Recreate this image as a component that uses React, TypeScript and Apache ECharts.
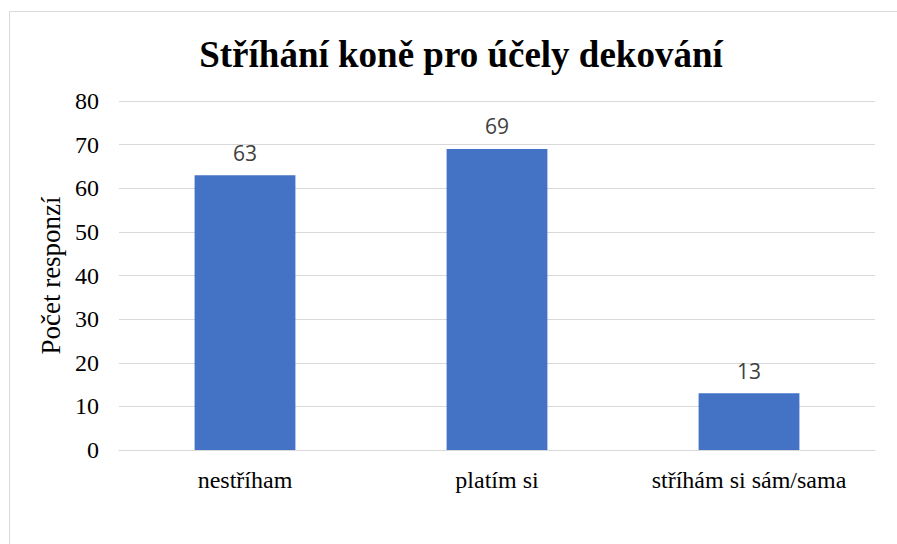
import React, { useEffect, useRef } from "react";
import * as echarts from "echarts";

const titleText = "Stříhání koně pro účely dekování";
const categories = ["nestříham", "platím si", "stříhám si sám/sama"];
const values = [63, 69, 13];
const yAxisName = "Počet responzí";
const yMin = 0;
const yMax = 80;
const yInterval = 10;

export default function App() {
  const ref = useRef<HTMLDivElement>(null);
  useEffect(() => {
    if (!ref.current) return;
    const chart = echarts.init(ref.current, undefined, { renderer: "svg" });
    chart.setOption({
      animation: false,
      backgroundColor: "#ffffff",
      title: {
        text: titleText,
        left: 456,
        textAlign: "center",
        top: 31,
        textStyle: {
          fontFamily: "Liberation Serif",
          fontWeight: "bold",
          fontSize: 37,
          color: "#000000",
        },
      },
      graphic: [
        {
          type: "rect",
          shape: { x: 9.5, y: 11.5, width: 1000, height: 1000 },
          style: { fill: "none", stroke: "#d9d9d9", lineWidth: 1 },
          silent: true,
        },
      ],
      grid: { left: 119, right: 22, top: 101, bottom: 94 },
      xAxis: {
        type: "category",
        data: categories,
        axisLine: { lineStyle: { color: "#d9d9d9", width: 1 } },
        axisTick: { show: false },
        axisLabel: {
          interval: 0,
          fontFamily: "Liberation Serif",
          fontSize: 24,
          color: "#000000",
          margin: 18,
        },
      },
      yAxis: {
        type: "value",
        min: yMin,
        max: yMax,
        interval: yInterval,
        name: yAxisName,
        nameLocation: "middle",
        nameGap: 49,
        nameRotate: 90,
        nameTextStyle: {
          fontFamily: "Liberation Serif",
          fontSize: 27,
          color: "#000000",
        },
        axisLine: { show: false },
        axisTick: { show: false },
        axisLabel: {
          fontFamily: "Liberation Serif",
          fontSize: 24,
          color: "#000000",
          margin: 20,
        },
        splitLine: { lineStyle: { color: "#d9d9d9", width: 1 } },
      },
      series: [
        {
          type: "bar",
          data: values,
          barWidth: "40%",
          itemStyle: { color: "#4472c4" },
          label: {
            show: true,
            position: "top",
            distance: 12,
            fontFamily: "Open Sans",
            fontSize: 21,
            color: "#404040",
          },
        },
      ],
    });
    return () => chart.dispose();
  }, []);
  return (
    <div
      ref={ref}
      style={{ position: "fixed", left: 0, top: 0, width: 897, height: 544 }}
    />
  );
}
